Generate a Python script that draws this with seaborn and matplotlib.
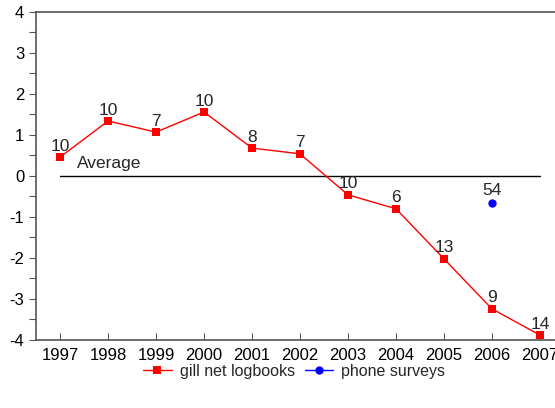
import matplotlib
matplotlib.use("Agg")
import matplotlib.pyplot as plt
import numpy as np
import pandas as pd
import seaborn as sns

# data
years = [1997, 1998, 1999, 2000, 2001, 2002, 2003, 2004, 2005, 2006, 2007]
gill_values = [0.46, 1.34, 1.07, 1.56, 0.68, 0.54, -0.46, -0.80, -2.02, -3.24, -3.88]
gill_counts = [10, 10, 7, 10, 8, 7, 10, 6, 13, 9, 14]
phone_years = [2006]
phone_values = [-0.65]
phone_counts = [54]
average_value = 0

df = pd.DataFrame({
    "year": years + phone_years,
    "value": gill_values + phone_values,
    "source": ["gill net logbooks"] * len(years) + ["phone surveys"] * len(phone_years),
})

sns.set_style("white")
plt.rcParams["font.family"] = ["Liberation Sans", "DejaVu Sans"]
plt.rcParams["axes.unicode_minus"] = False

fig = plt.figure(figsize=(5.55, 4.08), dpi=100)
ax = fig.add_axes([0.065, 0.1667, 0.951, 0.804])

sns.lineplot(data=df, x="year", y="value", hue="source", style="source",
             palette={"gill net logbooks": "#ff0000", "phone surveys": "#0000ff"},
             markers={"gill net logbooks": "s", "phone surveys": "o"},
             dashes=False, markersize=6, markeredgewidth=0, linewidth=1,
             ax=ax, legend=True)

ax.plot([years[0], years[-1]], [average_value, average_value], color="black", lw=1, zorder=1)
ax.text(1997.35, 0.3, "Average", fontsize=12.5, va="center", ha="left",
        bbox=dict(facecolor="white", edgecolor="none", pad=1))

for x, y, n in zip(years, gill_values, gill_counts):
    ax.annotate(str(n), (x, y), xytext=(0, 2.5), textcoords="offset points",
                ha="center", va="bottom", fontsize=12.5)
for x, y, n in zip(phone_years, phone_values, phone_counts):
    ax.annotate(str(n), (x, y), xytext=(0, 3), textcoords="offset points",
                ha="center", va="bottom", fontsize=12.5)

ax.set_xlim(1996.5, 2007.5)
ax.set_ylim(-4, 4)
ax.set_xticks(years)
ax.set_yticks(np.arange(-4, 5, 1))
ax.set_yticks(np.arange(-3.5, 4, 1), minor=True)
ax.set_xlabel("")
ax.set_ylabel("")
ax.tick_params(axis="y", which="both", direction="out", left=True, length=5, width=0.8,
               colors="#555555", labelcolor="black", labelsize=12)
ax.tick_params(axis="x", direction="in", bottom=True, length=5, width=0.8, pad=6,
               colors="#555555", labelcolor="black", labelsize=12)
for side in ["left", "top", "bottom"]:
    ax.spines[side].set_color("#555555")
    ax.spines[side].set_linewidth(1.2)
ax.spines["right"].set_visible(False)

handles, labels = ax.get_legend_handles_labels()
ax.legend_.remove()
fig.legend(handles, labels, loc="center", bbox_to_anchor=(0.53, 0.09), ncol=2,
           frameon=False, fontsize=11.5, handlelength=1.8, columnspacing=0.6,
           handletextpad=0.5)

fig.savefig("out.png", dpi=100)
